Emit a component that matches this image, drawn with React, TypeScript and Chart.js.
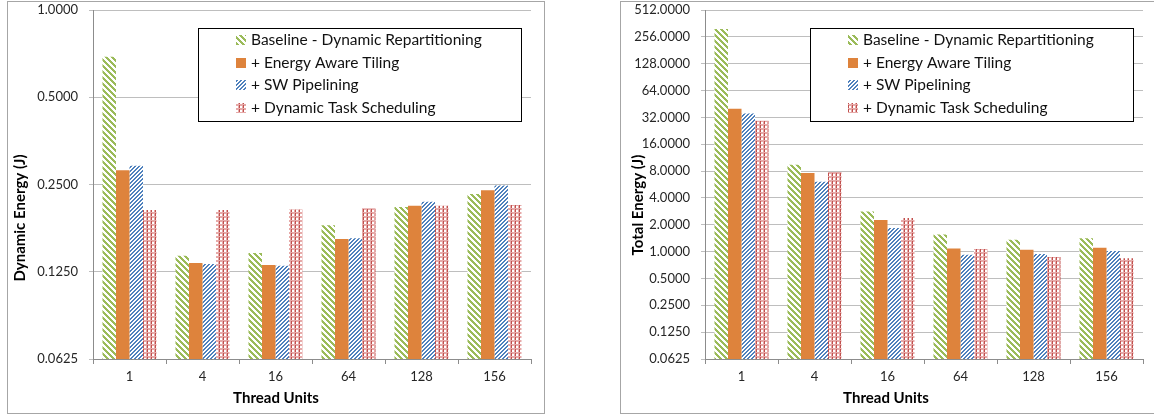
import React, { useEffect, useRef } from "react";
import { Chart, registerables } from "chart.js";

Chart.register(...registerables);

// ---- data ----
const threadUnits = ["1", "4", "16", "64", "128", "156"];
const seriesNames = [
  "Baseline - Dynamic Repartitioning",
  "+ Energy Aware Tiling",
  "+ SW Pipelining",
  "+ Dynamic Task Scheduling",
];

const dynBaseline = [0.69, 0.142, 0.145, 0.181, 0.209, 0.232];
const dynTiling = [0.28, 0.134, 0.132, 0.162, 0.211, 0.239];
const dynPipelining = [0.29, 0.133, 0.131, 0.163, 0.218, 0.248];
const dynScheduling = [0.204, 0.204, 0.205, 0.207, 0.211, 0.2125];

const totBaseline = [313, 9.43, 2.82, 1.56, 1.36, 1.41];
const totTiling = [40, 7.6, 2.26, 1.086, 1.05, 1.106];
const totPipelining = [35.4, 6.08, 1.84, 0.923, 0.94, 1.016];
const totScheduling = [29.3, 7.8, 2.38, 1.07, 0.87, 0.84];

const dynTicks = [0.0625, 0.125, 0.25, 0.5, 1];
const totTicks = [0.0625, 0.125, 0.25, 0.5, 1, 2, 4, 8, 16, 32, 64, 128, 256, 512];

// ---- styling ----
const FONT = "Lato, 'Open Sans', sans-serif";
const TEXT = "#262626";
const GRID = "#BEBEBE";
const AXIS = "#8C8C8C";

type PatternKind = "green" | "orange" | "blue" | "red";

function makeFill(ctx: CanvasRenderingContext2D, kind: PatternKind): CanvasPattern | string {
  if (kind === "orange") return "rgb(222,131,60)";
  const size = kind === "green" ? 6 : 4;
  const c = document.createElement("canvas");
  c.width = size;
  c.height = size;
  const g = c.getContext("2d")!;
  g.fillStyle = "#ffffff";
  g.fillRect(0, 0, size, size);
  for (let y = 0; y < size; y++) {
    for (let x = 0; x < size; x++) {
      let col: string | null = null;
      if (kind === "green") {
        if ((x - y + 60) % 6 < 3) col = "#9BBB59";
      } else if (kind === "blue") {
        if ((x + y) % 4 < 2) col = "#4F81BD";
      } else {
        // red plaid: dashed red columns, white cells, pink rest
        if (x === 0 && y < 3) col = "#C0504D";
        else if ((x === 1 || x === 2) && (y === 1 || y === 2)) col = "#ffffff";
        else col = "#E6A9A8";
      }
      if (col) {
        g.fillStyle = col;
        g.fillRect(x, y, 1, 1);
      }
    }
  }
  return ctx.createPattern(c, "repeat")!;
}

const kinds: PatternKind[] = ["green", "orange", "blue", "red"];

type Decor = {
  legendBox: { x: number; y: number; w: number; h: number };
  rows: number[];
  xTitle: { text: string; x: number; y: number };
  yTitle: { text: string; x: number; y: number };
};

const decorPlugin = {
  id: "decor",
  afterDraw(chart: any, _args: any, opts: Decor) {
    const ctx: CanvasRenderingContext2D = chart.ctx;
    ctx.save();
    // chart area frame
    ctx.strokeStyle = "#A6A6A6";
    ctx.lineWidth = 1;
    ctx.strokeRect(0.5, 0.5, chart.width - 1, chart.height - 1);

    // legend
    const b = opts.legendBox;
    ctx.fillStyle = "#ffffff";
    ctx.fillRect(b.x, b.y, b.w, b.h);
    ctx.strokeStyle = "#000000";
    ctx.strokeRect(b.x + 0.5, b.y + 0.5, b.w, b.h);
    ctx.font = `15.5px ${FONT}`;
    ctx.textBaseline = "middle";
    ctx.textAlign = "left";
    seriesNames.forEach((name, i) => {
      const cy = opts.rows[i];
      ctx.fillStyle = makeFill(ctx, kinds[i]);
      ctx.fillRect(b.x + 38, Math.round(cy - 5), 10, 10);
      ctx.fillStyle = "#111";
      ctx.fillText(name, b.x + 53, cy);
    });

    // axis titles
    ctx.font = `bold 15px ${FONT}`;
    ctx.fillStyle = "#000";
    ctx.textAlign = "center";
    ctx.fillText(opts.xTitle.text, opts.xTitle.x, opts.xTitle.y);
    ctx.translate(opts.yTitle.x, opts.yTitle.y);
    ctx.rotate(-Math.PI / 2);
    ctx.fillText(opts.yTitle.text, 0, 0);
    ctx.restore();
  },
};

type Props = {
  left: number;
  top: number;
  width: number;
  height: number;
  series: number[][];
  ticks: number[];
  yWidth: number;
  padRight: number;
  decor: Decor;
};

function EnergyChart(p: Props) {
  const ref = useRef<HTMLCanvasElement>(null);
  useEffect(() => {
    const canvas = ref.current!;
    const ctx = canvas.getContext("2d")!;
    const chart = new Chart(ctx, {
      type: "bar",
      data: {
        labels: threadUnits,
        datasets: p.series.map((vals, i) => ({
          label: seriesNames[i],
          data: vals,
          backgroundColor: makeFill(ctx, kinds[i]) as any,
          borderWidth: 0,
          categoryPercentage: 0.74,
          barPercentage: 1,
        })),
      },
      options: {
        responsive: false,
        animation: false,
        devicePixelRatio: 1,
        layout: { padding: { top: 9, right: p.padRight, left: 0, bottom: 0 } },
        plugins: {
          legend: { display: false },
          tooltip: { enabled: false },
          decor: p.decor,
        } as any,
        scales: {
          x: {
            type: "category",
            offset: true,
            grid: { drawOnChartArea: false, tickLength: 5, color: AXIS, offset: true },
            border: { color: AXIS },
            ticks: { font: { family: FONT, size: 13 }, color: TEXT, padding: 5, maxRotation: 0 },
            afterFit: (s: any) => {
              s.height = p.height - 358;
            },
          },
          y: {
            type: "logarithmic",
            min: p.ticks[0],
            max: p.ticks[p.ticks.length - 1],
            afterBuildTicks: (s: any) => {
              s.ticks = p.ticks.map((v) => ({ value: v }));
            },
            afterFit: (s: any) => {
              s.width = p.yWidth;
              // the plot edges are set by layout padding alone
              s.paddingTop = 0;
              s.paddingBottom = 0;
            },
            grid: { color: GRID, tickLength: 4 },
            border: { color: AXIS },
            ticks: {
              autoSkip: false,
              font: { family: FONT, size: 13 },
              color: TEXT,
              padding: 11,
              callback: (v: any) => Number(v).toFixed(4),
            },
          },
        },
      },
      plugins: [decorPlugin as any],
    });
    return () => chart.destroy();
  }, []);
  return (
    <canvas
      ref={ref}
      width={p.width}
      height={p.height}
      style={{ position: "absolute", left: p.left, top: p.top, width: p.width, height: p.height }}
    />
  );
}

export default function App() {
  return (
    <div style={{ position: "absolute", left: 0, top: 0, width: 1154, height: 415, background: "#fff", overflow: "hidden" }}>
      <EnergyChart
        left={7}
        top={1}
        width={538}
        height={413}
        series={[dynBaseline, dynTiling, dynPipelining, dynScheduling]}
        ticks={dynTicks}
        yWidth={86}
        padRight={14}
        decor={{
          legendBox: { x: 191, y: 27, w: 323, h: 93 },
          rows: [39, 61.7, 84.3, 107],
          xTitle: { text: "Thread Units", x: 269, y: 397 },
          yTitle: { text: "Dynamic Energy (J)", x: 13, y: 217 },
        }}
      />
      <EnergyChart
        left={620}
        top={1}
        width={535}
        height={413}
        series={[totBaseline, totTiling, totPipelining, totScheduling]}
        ticks={totTicks}
        yWidth={85}
        padRight={12}
        decor={{
          legendBox: { x: 190, y: 27, w: 323, h: 93 },
          rows: [39, 61.7, 84.3, 107],
          xTitle: { text: "Thread Units", x: 266, y: 397 },
          yTitle: { text: "Total Energy (J)", x: 18, y: 204 },
        }}
      />
    </div>
  );
}
